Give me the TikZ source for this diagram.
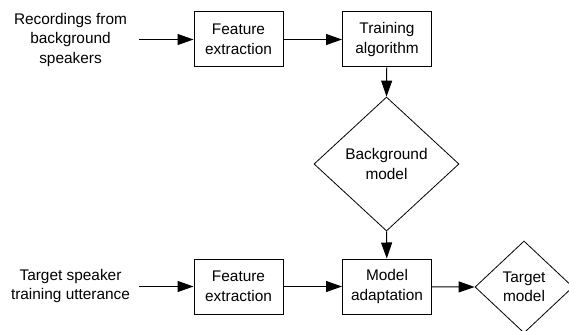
\documentclass[tikz,border=0pt]{standalone}
\usepackage{fontspec}
\setmainfont{Liberation Sans}
\usetikzlibrary{shapes.geometric,arrows.meta}
\begin{document}
\begin{tikzpicture}[x=1pt,y=-1pt,
  every node/.style={font=\fontsize{15.4}{19.5}\selectfont, align=center},
  box/.style={draw=black, line width=1pt, minimum width=89pt, minimum height=55pt, inner sep=0pt},
  dia/.style={draw=black, line width=0.8pt, diamond, inner sep=0pt},
  conn/.style={draw=black, line width=1pt, -{Triangle[length=16pt,width=11pt]}}]
\clip (0,0) rectangle (569,331);
\useasboundingbox (0,0) rectangle (569,331);
% top row
\node (rec) at (70.5,40) {Recordings from\\background\\speakers};
\coordinate (in1) at (139,39.5);
\node[box] (fe1) at (238.5,39.5) {Feature\\extraction};
\node[box] (tr) at (387,39.5) {Training\\algorithm};
\node[dia, minimum width=145pt, minimum height=134pt] (bg) at (386.5,164) {Background\\model};
% bottom row
\node (tgt) at (70.5,286) {Target speaker\\training utterance};
\coordinate (in2) at (139,286.5);
\node[box] (fe2) at (238.5,286.5) {Feature\\extraction};
\node[box] (ma) at (387,286.5) {Model\\adaptation};
\node[dia, minimum width=98pt, minimum height=92pt] (tm) at (524,287) {Target\\model};
% connectors
\draw[conn] (in1) -- (fe1);
\draw[conn] (fe1) -- (tr);
\draw[conn] (tr) -- (bg.north);
\draw[conn] (bg.south) -- (ma);
\draw[conn] (in2) -- (fe2);
\draw[conn] (fe2) -- (ma);
\draw[conn] (ma) -- (tm.west);
\end{tikzpicture}
\end{document}
